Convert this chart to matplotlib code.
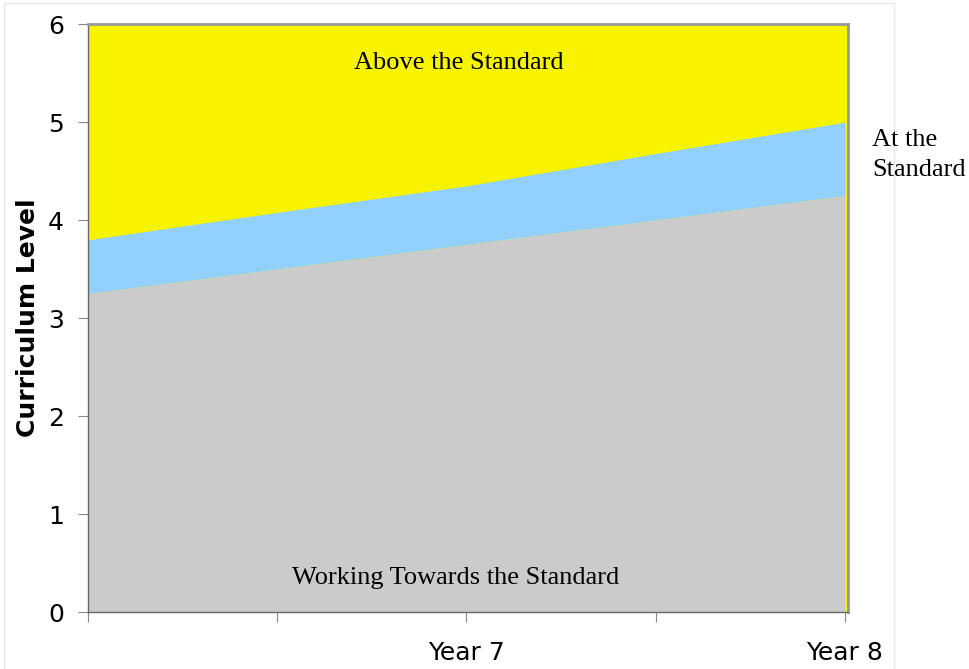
import matplotlib.pyplot as plt
from matplotlib.patches import Rectangle

# data
x_pos = [0, 1, 2, 3, 4]
x_labels = ['', '', 'Year 7', '', 'Year 8']
working_towards = [3.25, 3.5, 3.75, 4.0, 4.25]
at_standard_top = [3.8, 4.08, 4.35, 4.68, 5.0]
y_max = 6

gray = '#cbcbcb'
blue = '#92d1ff'
yellow = '#f8f400'

fig = plt.figure(figsize=(9.7, 6.69), dpi=100)
ax = fig.add_axes([88 / 970, 1 - 612 / 669, 760 / 970, 588 / 669])

# faint border round the whole picture
fig.patches.append(Rectangle((4 / 970, -0.01), 890 / 970, 1 - 3 / 669 + 0.01,
                             transform=fig.transFigure, fill=False,
                             edgecolor='#e6e6e6', linewidth=1))

ax.set_facecolor(yellow)
ax.fill_between(x_pos, 0, working_towards, color=gray, linewidth=0)
ax.fill_between(x_pos, working_towards, at_standard_top, color=blue, linewidth=0)
ax.fill_between(x_pos, at_standard_top, y_max, color=yellow, linewidth=0)

ax.set_xlim(0, 4.016)
ax.set_ylim(0, y_max)
ax.set_xticks(x_pos)
ax.set_xticklabels(x_labels)
ax.set_yticks(range(0, 7))
ax.tick_params(axis='both', direction='out', length=7.2, color='#888888',
               labelsize=18)
ax.tick_params(axis='y', pad=10)
ax.tick_params(axis='x', pad=14)

for side in ['left', 'bottom']:
    ax.spines[side].set_color('#666666')
    ax.spines[side].set_linewidth(1)
for side in ['top', 'right']:
    ax.spines[side].set_color('#999999')
    ax.spines[side].set_linewidth(2)

ax.set_ylabel('Curriculum Level', fontsize=18, fontweight='bold', labelpad=6)

serif = ['Liberation Serif', 'DejaVu Serif']
ax.text(1.958, 5.6, 'Above the Standard', ha='center', va='center',
        fontsize=19, family=serif)
ax.text(1.942, 0.35, 'Working Towards the Standard', ha='center', va='center',
        fontsize=19, family=serif)
fig.text(872 / 970, 1 - 155 / 669, 'At the\nStandard', ha='left', va='center',
         fontsize=19, family=serif, linespacing=1.48)

fig.savefig('out.png', dpi=100)
